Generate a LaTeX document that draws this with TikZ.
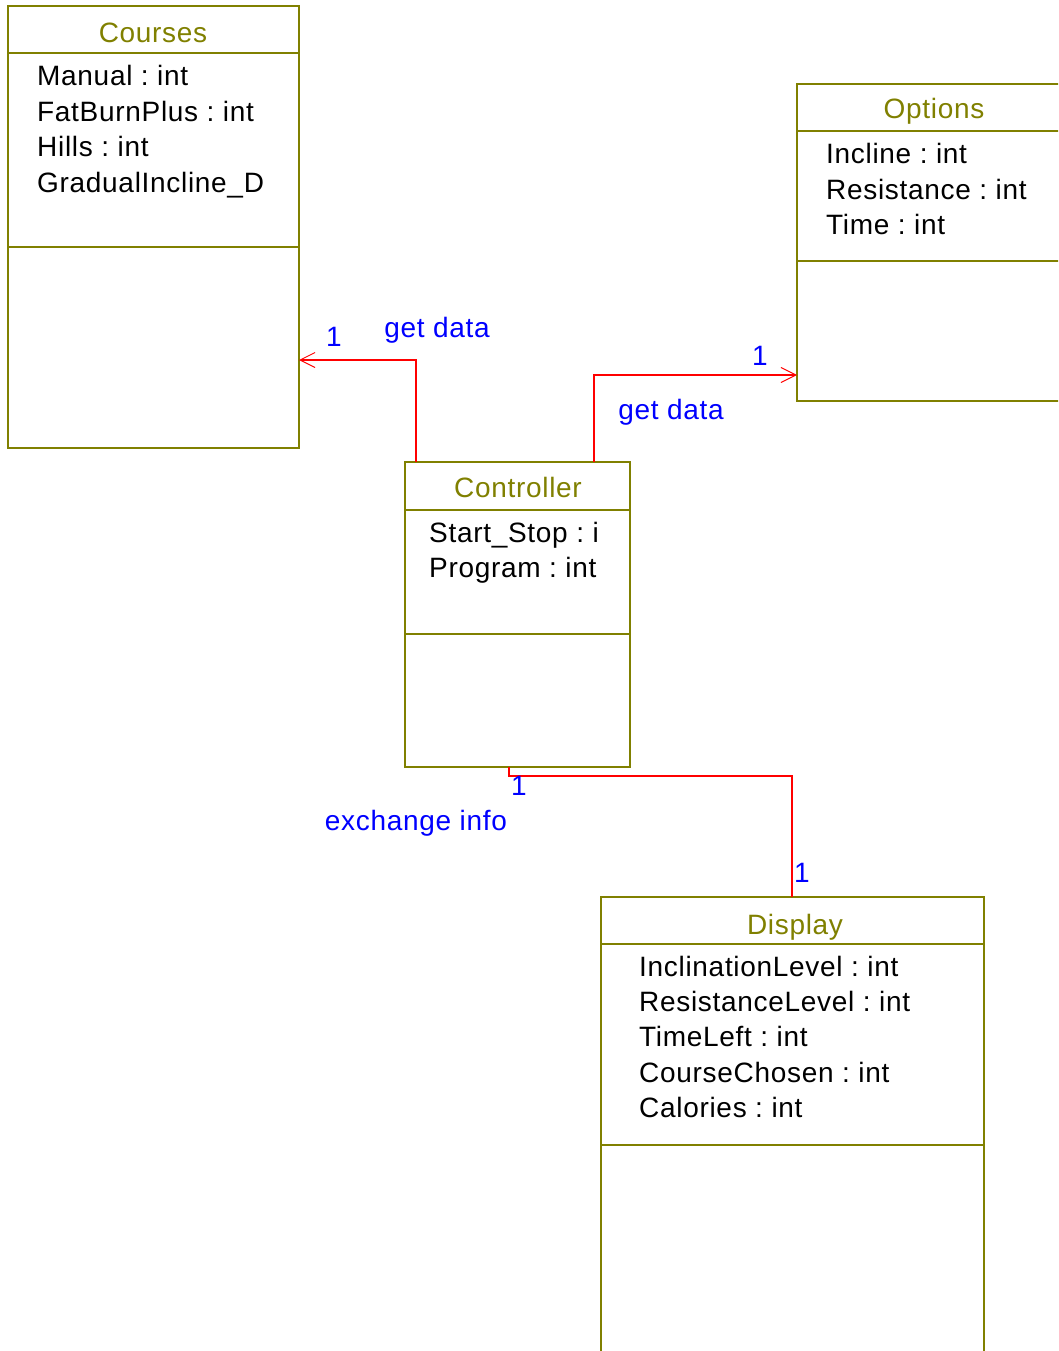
\documentclass[tikz,border=0pt]{standalone}
\usepackage{fontspec}
\setmainfont[LetterSpace=2.5]{Liberation Sans}
\usetikzlibrary{arrows.meta}
\definecolor{umlolive}{RGB}{128,128,0}
\definecolor{umlred}{RGB}{255,0,0}
\definecolor{umlblue}{RGB}{0,0,255}
\frenchspacing

\begin{document}
\begin{tikzpicture}
	[x=1pt,y=-1pt,
	every node/.style={font=\fontsize{28}{35}\selectfont,inner sep=0pt},
	classbox/.style={draw=umlolive,line width=2pt,anchor=north west,outer sep=0pt},
	sepline/.style={draw=umlolive,line width=2pt},
	title/.style={text=umlolive,anchor=base},
	attr/.style={anchor=base west},
	assoc/.style={draw=umlred,line width=2pt},
	label/.style={text=umlblue,anchor=base},
	tip/.style={-{Straight Barb[length=15pt,width=15pt,line width=1pt]}}]
	\useasboundingbox (0,0) rectangle (1058,1351);
	\clip (0,0) rectangle (1058,1351);
	% boxes
	\node[classbox,minimum width=291pt,minimum height=442pt] (courses) at (8,6) {};
	\node[classbox,minimum width=274pt,minimum height=317pt] (options) at (797,84) {};
	\node[classbox,minimum width=225pt,minimum height=305pt] (ctrl) at (405,462) {};
	\node[classbox,minimum width=383pt,minimum height=520pt] (display) at (601,897) {};
	% compartments
	\foreach \n/\a/\b in {courses/53/247, options/131/261, ctrl/510/634, display/944/1145} {
		\draw [sepline] (\n.west |- 0,\a) -- (\n.east |- 0,\a);
		\draw [sepline] (\n.west |- 0,\b) -- (\n.east |- 0,\b);
	}
	% titles
	\node[title] (coursesT) at (153,43) {Courses};
	\node[title] (optionsT) at (934,119) {Options};
	\node[title] (ctrlT) at (518,497) {Controller};
	\node[title] (displayT) at (795,934) {Display};
	% attributes
	\foreach \t [count=\i] in {Manual : int, FatBurnPlus : int, Hills : int, GradualIncline\_D}
		\node[attr] (coursesA\i) at (37,{86+35.4*(\i-1)}) {\t};
	\foreach \t [count=\i] in {Incline : int, Resistance : int, Time : int}
		\node[attr] (optionsA\i) at (826,{164+35.4*(\i-1)}) {\t};
	\foreach \t [count=\i] in {Start\_Stop : i, Program : int}
		\node[attr] (ctrlA\i) at (429,{542+35.4*(\i-1)}) {\t};
	\foreach \t [count=\i] in {InclinationLevel : int, ResistanceLevel : int, TimeLeft : int, CourseChosen : int, Calories : int}
		\node[attr] (displayA\i) at (639,{976+35.4*(\i-1)}) {\t};
	% associations
	\draw [assoc,tip] ([xshift=11pt]ctrl.north west) |- (courses.east |- 0,360);
	\draw [assoc,tip] ([xshift=189pt]ctrl.north west) |- (options.west |- 0,375);
	\draw [assoc] ([xshift=104pt]ctrl.south west) -- ++(0,9) -| ([xshift=191pt]display.north west);
	% labels
	\node[label] (m1) at (334,346) {1};
	\node[label] (getL) at (437,337) {get data};
	\node[label] (m2) at (760,365) {1};
	\node[label] (getR) at (671,419) {get data};
	\node[label] (m3) at (519,795) {1};
	\node[label] (exch) at (416,830) {exchange info};
	\node[label] (m4) at (802,882) {1};
\end{tikzpicture}
\end{document}
